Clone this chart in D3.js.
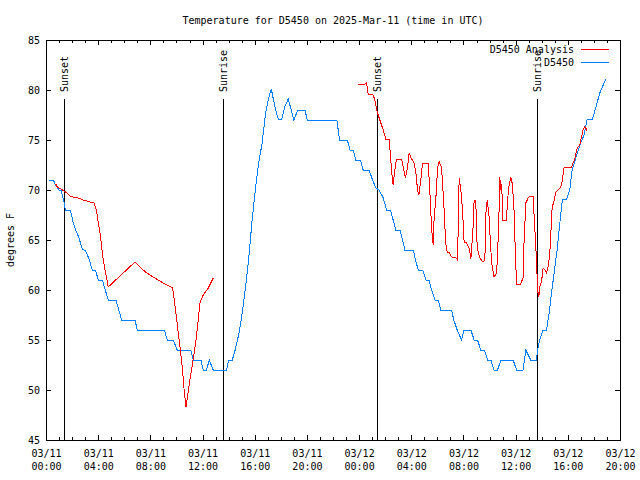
<!DOCTYPE html>
<html><head><meta charset="utf-8">
<script src="https://cdn.jsdelivr.net/npm/d3@7"></script>
<style>
body{margin:0;background:#fff}
text{font-family:"DejaVu Sans Mono","Liberation Mono",monospace;font-size:10px;fill:#000}
</style>
</head><body><svg id="c" width="640" height="480"></svg>
<script>
// ---- data ----
const chartTitle = "Temperature for D5450 on 2025-Mar-11 (time in UTC)";
const yLabel = "degrees F";
const yTicks = [45, 50, 55, 60, 65, 70, 75, 80, 85];
const xTickHours = [0, 4, 8, 12, 16, 20, 24, 28, 32, 36, 40, 44];
const xTickDates = ["03/11","03/11","03/11","03/11","03/11","03/11","03/12","03/12","03/12","03/12","03/12","03/12"];
const xTickTimes = ["00:00","04:00","08:00","12:00","16:00","20:00","00:00","04:00","08:00","12:00","16:00","20:00"];
const seriesNames = ["D5450 Analysis", "D5450"];

// observations (hours since 03/11 00:00 UTC)
const obsHours = [0.2,0.56,0.74,1.0,1.15,1.38,1.48,1.84,1.97,2.02,2.28,2.53,2.78,3.04,3.3,3.55,3.81,4.01,4.34,4.77,5.36,5.8,6.82,7.0,9.07,9.3,9.75,10.06,11.09,11.29,11.88,12.05,12.31,12.51,12.82,13.85,14.0,14.28,14.5,14.8,15.04,15.3,15.55,15.8,16.07,16.3,16.57,16.83,17.09,17.27,17.55,17.8,18.06,18.3,18.57,18.8,19.0,19.3,19.85,20.03,22.3,22.5,23.1,23.3,23.55,23.75,24.11,24.31,24.77,25.03,25.29,25.54,25.85,26.11,26.41,26.61,26.82,27.13,27.33,27.51,28.15,28.33,28.53,28.87,29.12,29.35,29.56,29.81,30.06,30.27,31.09,31.26,31.52,31.85,32.05,32.57,32.82,33.08,33.33,33.59,33.85,34.1,34.35,34.61,34.87,35.81,36.07,36.57,36.78,37.16,37.6,37.68,37.85,38.1,38.37,38.57,38.75,38.95,39.18,39.39,39.59,39.9,40.15,40.33,40.61,40.92,41.25,41.48,41.89,42.2,42.45,42.91];
const obsTemps = [71,71,70.5,70,70,68.8,68,68,67.5,67,66,65.2,64.1,63.9,63.1,62,61.9,61,60.9,59,59,57,57,56,56,55,55,54,54,53,53,52,52,53,52,52,53,53,54,55.7,57.7,60.3,63.3,67,70.3,72.7,74.7,77.7,79.3,80.1,78.3,77.1,77,78.3,79.1,78,77,78,78,77,77,75,75,74,74,73,73,72,72,71,70.2,70,69.2,68,68,67,66,66,65,64,64,63,62,62,61,61,60,59,59,58,58,57,56,55,56,56,55,55,54,54,53,53,52,52,53,53,52,52,54,53,53,54,55,56,56,57.7,59.7,61.7,64,66.7,69.1,69.1,70,72,73.2,74.5,75.5,77.1,77.1,78.5,79.7,81.1];

// analysis, first run
const anaHoursA = [0.74,0.87,1.13,1.38,1.59,1.84,2.09,2.48,2.86,3.37,3.7,3.89,4.01,4.14,4.27,4.39,4.57,4.77,6.82,7.2,7.72,8.35,8.99,9.71,9.83,10.02,10.27,10.47,10.6,10.73,10.86,11.03,11.24,11.47,11.67,11.8,12.05,12.44,12.82];
const anaTempsA = [70.6,70.3,70.1,69.9,69.7,69.4,69.3,69.2,69.0,68.8,68.7,67.8,66.7,65.7,64.3,63.0,61.7,60.3,62.8,62.3,61.7,61.2,60.7,60.2,59.0,57.0,54.3,52.0,49.8,48.3,49.5,51.0,52.7,54.7,57.0,58.7,59.5,60.2,61.2];
// analysis, second run
const anaHoursB = [23.95,24.06,24.31,24.57,24.7,25.08,25.21,25.39,25.59,25.85,26.05,26.31,26.41,26.54,26.61,26.74,26.87,27.26,27.43,27.56,27.72,27.84,28.02,28.2,28.35,28.48,28.58,28.71,28.87,29.3,29.43,29.5,29.6,29.68,29.73,29.89,30.02,30.14,30.32,30.52,30.63,30.75,30.9,31.09,31.42,31.55,31.61,31.67,31.8,31.93,32.05,32.24,32.44,32.57,32.74,32.82,32.95,33.0,33.13,33.31,33.51,33.64,33.72,33.82,33.97,34.08,34.2,34.35,34.54,34.62,34.71,34.79,34.84,34.94,35.0,35.3,35.38,35.5,35.63,35.73,35.86,35.94,36.02,36.07,36.38,36.57,36.63,36.78,36.96,37.14,37.34,37.42,37.52,37.6,37.68,37.78,37.85,37.98,38.11,38.24,38.37,38.49,38.62,38.7,38.8,38.93,39.08,39.26,39.46,39.59,39.69,39.9,40.28,40.54,40.67,40.79,40.92,41.05,41.17,41.3,41.38,41.48,41.56];
const anaTempsB = [80.6,80.6,80.5,80.7,79.6,79.5,79.0,77.8,77.0,76.0,75.1,75.1,73.3,71.2,70.5,72.0,73.1,73.1,72.0,71.2,72.3,73.7,73.1,72.8,71.8,70.0,69.5,70.8,72.7,72.7,69.7,67.7,65.5,64.5,66.7,69.3,72.3,72.8,72.3,68.0,64.8,63.8,63.8,63.3,63.2,63.0,67.3,71.2,70.0,68.0,64.8,64.7,64.2,63.1,66.3,69.0,69.0,65.3,63.7,63.1,62.8,63.0,67.7,69.0,67.3,64.3,62.3,61.3,61.7,63.7,67.0,71.3,70.0,70.6,67.0,67.0,69.0,70.5,71.3,70.7,68.7,65.3,62.3,60.6,60.6,61.2,64.3,68.7,69.2,69.4,69.4,67.3,65.0,63.0,60.0,59.3,60.3,60.8,62.2,62.0,61.7,62.3,63.7,65.7,68.3,68.8,69.8,70.0,70.3,71.0,72.2,72.3,72.3,73.1,74.0,74.3,74.5,75.3,76.0,76.3,76.2,75.9];

const sunLabels = ["Sunset", "Sunrise", "Sunset", "Sunrise"];
const sunHours = [1.40, 13.59, 25.39, 37.65];

// ---- drawing ----
const base = Date.UTC(2025, 2, 11, 0, 0, 0);
const toDate = h => new Date(base + h * 3600e3);
const L = 46, R = 620, T = 40, B = 440;
const x = d3.scaleUtc().domain([toDate(0), toDate(44)]).range([L, R]);
const y = d3.scaleLinear().domain([45, 85]).range([B, T]);
const svg = d3.select("#c");
const red = "#ff0000", blue = "#0080ff";

svg.append("text").attr("x", (L + R) / 2).attr("y", 20)
  .attr("text-anchor", "middle").attr("dominant-baseline", "central").text(chartTitle);
svg.append("text").attr("transform", "translate(10,240) rotate(-90)")
  .attr("text-anchor", "middle").attr("dominant-baseline", "central").text(yLabel);

const minorHours = d3.range(0, 45, 1).filter(h => h % 4 !== 0);
function axisG(gen, tx, ty) {
  const g = svg.append("g").attr("transform", `translate(${tx},${ty})`).call(gen);
  g.select(".domain").remove();
  g.selectAll("line").attr("stroke", "#000").attr("shape-rendering", "crispEdges");
  return g;
}
// bottom major with labels
const gb = axisG(d3.axisBottom(x).tickValues(xTickHours.map(toDate)).tickSizeInner(-5).tickSizeOuter(0)
  .tickFormat((d, i) => xTickDates[i]), 0, B);
gb.selectAll("text").each(function (d, i) {
  const t = d3.select(this).attr("dy", null).attr("y", null).text(null)
    .attr("fill", "#000").attr("font-size", null).attr("font-family", null);
  t.append("tspan").attr("x", 0).attr("y", 13).attr("dominant-baseline", "central").text(xTickDates[i]);
  t.append("tspan").attr("x", 0).attr("y", 26).attr("dominant-baseline", "central").text(xTickTimes[i]);
});
axisG(d3.axisBottom(x).tickValues(minorHours.map(toDate)).tickSizeInner(-3).tickSizeOuter(0).tickFormat(""), 0, B);
axisG(d3.axisTop(x).tickValues(xTickHours.map(toDate)).tickSizeInner(-5).tickSizeOuter(0).tickFormat(""), 0, T);
axisG(d3.axisTop(x).tickValues(minorHours.map(toDate)).tickSizeInner(-3).tickSizeOuter(0).tickFormat(""), 0, T);
const gl = axisG(d3.axisLeft(y).tickValues(yTicks).tickSizeInner(-5).tickSizeOuter(0).tickPadding(6), L, 0);
gl.selectAll("text").attr("dy", null).attr("dominant-baseline", "central")
  .attr("font-size", null).attr("font-family", null).attr("fill", "#000");
axisG(d3.axisRight(y).tickValues(yTicks).tickSizeInner(-5).tickSizeOuter(0).tickFormat(""), R, 0);

// frame
svg.append("rect").attr("x", L).attr("y", T).attr("width", R - L).attr("height", B - T)
  .attr("fill", "none").attr("stroke", "#000").attr("shape-rendering", "crispEdges");

// sunrise/sunset lines
sunHours.forEach((h, i) => {
  const xx = Math.round(x(toDate(h))) + 0.5;
  svg.append("line").attr("x1", xx).attr("x2", xx).attr("y1", 99).attr("y2", B)
    .attr("stroke", "#000").attr("shape-rendering", "crispEdges");
  svg.append("text").attr("transform", `translate(${xx},92) rotate(-90)`)
    .attr("text-anchor", "start").attr("dominant-baseline", "central").text(sunLabels[i]);
});

// lines
const line = d3.line().x(d => x(toDate(d[0]))).y(d => y(d[1]));
const zip = (a, b) => a.map((v, i) => [v, b[i]]);
svg.append("path").datum(zip(obsHours, obsTemps)).attr("d", line)
  .attr("fill", "none").attr("stroke", blue).attr("stroke-width", 1).attr("shape-rendering", "crispEdges");
[zip(anaHoursA, anaTempsA), zip(anaHoursB, anaTempsB)].forEach(s => {
  svg.append("path").datum(s).attr("d", line)
    .attr("fill", "none").attr("stroke", red).attr("stroke-width", 1).attr("shape-rendering", "crispEdges");
});

// legend
const legColors = [red, blue];
seriesNames.forEach((n, i) => {
  const ly = 49 + i * 13;
  svg.append("text").attr("x", 574).attr("y", ly).attr("text-anchor", "end")
    .attr("dominant-baseline", "central").text(n);
  svg.append("line").attr("x1", 581).attr("x2", 609).attr("y1", ly + 0.5).attr("y2", ly + 0.5)
    .attr("stroke", legColors[i]).attr("shape-rendering", "crispEdges");
});
</script></body></html>
